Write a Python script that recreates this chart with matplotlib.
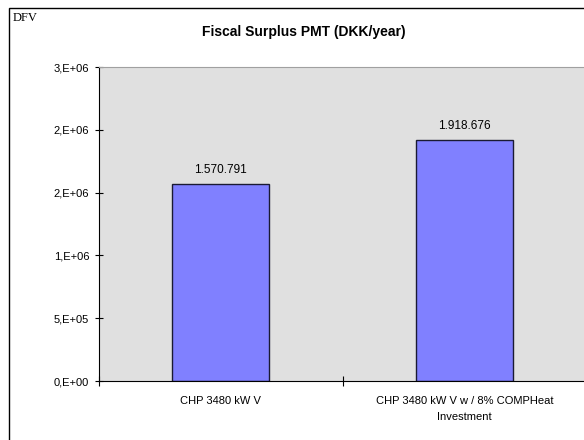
import numpy as np
import matplotlib
matplotlib.use("Agg")
import matplotlib.pyplot as plt
from matplotlib.patches import Rectangle
from matplotlib.ticker import FixedLocator

categories = ["CHP 3480 kW V", "CHP 3480 kW V w / 8% COMPHeat\nInvestment"]
values = [1570791, 1918676]
value_labels = ["1.570.791", "1.918.676"]
yticks = [0, 500000, 1000000, 1500000, 2000000, 2500000]
ytick_labels = ["0,E+00", "5,E+05", "1,E+06", "2,E+06", "2,E+06", "3,E+06"]

plt.rcParams["font.family"] = ["Liberation Sans", "DejaVu Sans"]

W, H = 584, 440
fig = plt.figure(figsize=(W / 100, H / 100), dpi=100)
fig.patch.set_facecolor("white")

# chart-area border (right/bottom edges fall outside the crop)
fig.patches.append(Rectangle((9 / W, -0.1), 1.2, 1 - 8 / H + 0.1, transform=fig.transFigure,
                             fill=False, edgecolor="black", lw=1.0))

ax = fig.add_axes([99 / W, 1 - 381 / H, (W - 99 + 2) / W, (381 - 67) / H])
ax.set_facecolor("#E0E0E0")

x = np.arange(len(values)) + 0.5
ax.bar(x, values, width=0.4, color="#8080FF", edgecolor="#1a1a33", lw=1.0, zorder=2)
for xi, v, lab in zip(x, values, value_labels):
    ax.text(xi, v + 65000, lab, ha="center", va="bottom", fontsize=8.5, color="black")

ax.set_xlim(0, 2)
ax.set_ylim(0, 2500000)
ax.set_yticks(yticks)
ax.set_yticklabels(ytick_labels, fontsize=8)
ax.xaxis.set_major_locator(FixedLocator([0, 1, 2]))
ax.set_xticklabels([])
ax.xaxis.set_minor_locator(FixedLocator(x))
ax.set_xticklabels(categories, minor=True, fontsize=8, linespacing=1.75)
ax.tick_params(axis="x", which="minor", length=0, pad=11)
ax.tick_params(axis="x", which="major", direction="inout", length=7, width=0.8)
ax.tick_params(axis="y", direction="inout", length=6, width=0.8, pad=4)

ax.spines["left"].set_color("black")
ax.spines["bottom"].set_color("black")
ax.spines["top"].set_color("#a0a0a0")
ax.spines["right"].set_visible(False)

fig.text(304 / W, 1 - 32 / H, "Fiscal Surplus PMT (DKK/year)", ha="center", va="center",
         fontsize=10, fontweight="bold")
fig.text(13 / W, 1 - 18 / H, "DFV", ha="left", va="center", fontsize=9,
         family=["Liberation Serif", "DejaVu Serif"])

fig.savefig("out.png", dpi=100)
